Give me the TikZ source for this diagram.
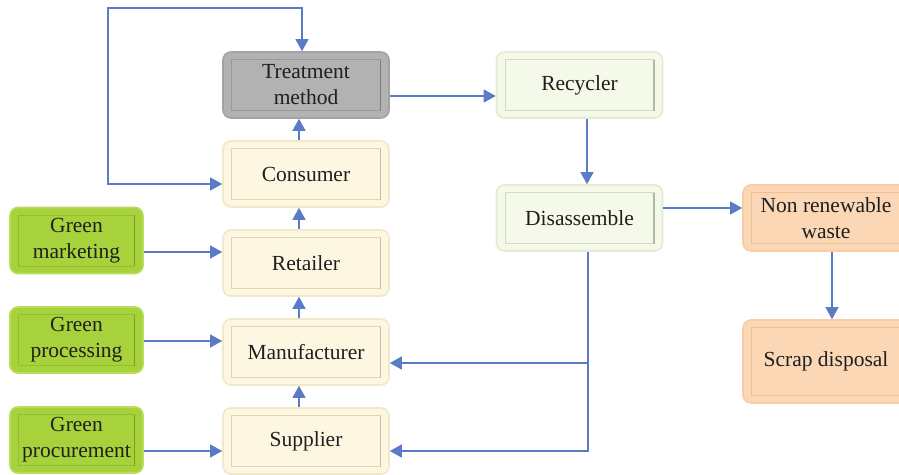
\documentclass[tikz,border=0pt]{standalone}
\usepackage{fontspec}
\setmainfont{Liberation Serif}
\usetikzlibrary{arrows.meta,calc}

\definecolor{arrowblue}{HTML}{5A7CC6}
\definecolor{creamfill}{HTML}{FDF7E2}
\definecolor{creamedge}{HTML}{F1E8C9}
\definecolor{creamline}{HTML}{E0D7B2}
\definecolor{creamdark}{HTML}{C9BE92}
\definecolor{mintfill}{HTML}{F5F9E9}
\definecolor{mintedge}{HTML}{E4EBD0}
\definecolor{mintline}{HTML}{D3DBBE}
\definecolor{mintdark}{HTML}{B3BB9E}
\definecolor{limefill}{HTML}{A8D23C}
\definecolor{limeedge}{HTML}{B8DC5C}
\definecolor{limeline}{HTML}{92BE32}
\definecolor{limedark}{HTML}{75A025}
\definecolor{peachfill}{HTML}{FBD7B6}
\definecolor{peachedge}{HTML}{F8CCA6}
\definecolor{peachline}{HTML}{ECC09A}
\definecolor{peachdark}{HTML}{DAA980}
\definecolor{greyfill}{HTML}{B2B2B2}
\definecolor{greyedge}{HTML}{A3A3A3}
\definecolor{greyline}{HTML}{9A9A9A}
\definecolor{greydark}{HTML}{7E7E7E}

\tikzset{
  panel/.style n args={4}{
    rounded corners=8pt, fill=#1, draw=#2, line width=1.6pt,
    minimum width=166pt, minimum height=66pt, inner sep=0pt,
    align=center, text=black!88, font=\fontsize{21.5}{26}\selectfont,
    path picture={
      \draw[sharp corners, draw=#3, line width=0.8pt]
        ($(path picture bounding box.south west)+(8.5pt,7.5pt)$) rectangle
        ($(path picture bounding box.north east)+(-8.5pt,-7.5pt)$);
      \draw[sharp corners, draw=#4, line width=1.4pt]
        ($(path picture bounding box.south east)+(-8.5pt,7.5pt)$) --
        ($(path picture bounding box.north east)+(-8.5pt,-7.5pt)$);
    }},
  cream/.style={panel={creamfill}{creamedge}{creamline}{creamdark}},
  mint/.style={panel={mintfill}{mintedge}{mintline}{mintdark}},
  lime/.style={panel={limefill}{limeedge}{limeline}{limedark}, minimum width=133pt},
  peach/.style={panel={peachfill}{peachedge}{peachline}{peachdark}},
  grey/.style={panel={greyfill}{greyedge}{greyline}{greydark}},
  arr/.style={draw=arrowblue, line width=1.1pt,
    -{Triangle[length=12pt,width=13pt]}},
  twoway/.style={draw=arrowblue, line width=1.1pt,
    {Triangle[length=12pt,width=13pt]}-{Triangle[length=12pt,width=13pt]}}
}

\begin{document}
\begin{tikzpicture}[x=1pt,y=-1pt]
\useasboundingbox (0,0) rectangle (899,474);

% supply chain column
\node[grey]  (tm)   at (306,85)  {Treatment\\method};
\node[cream] (cons) at (306,174) {Consumer};
\node[cream] (ret)  at (306,263) {Retailer};
\node[cream] (man)  at (306,352) {Manufacturer};
\node[cream] (sup)  at (306,441) {Supplier};

% green practices
\node[lime] (gm)  at (76.5,240.5) {Green\\marketing};
\node[lime] (gp)  at (76.5,340)   {Green\\processing};
\node[lime] (gpr) at (76.5,440)   {Green\\procurement};

% end-of-life branch
\node[mint]  (rec) at (579.5,85)  {Recycler};
\node[mint]  (dis) at (579.5,218) {Disassemble};
\node[peach] (nrw) at (826,218)   {Non renewable\\waste};
\node[peach, minimum height=83pt] (scr) at (826,361.5) {Scrap disposal};

% upward flow
\draw[arr] ($(sup.north)+(-7,0)$) -- ($(man.south)+(-7,0)$);
\draw[arr] ($(man.north)+(-7,0)$) -- ($(ret.south)+(-7,0)$);
\draw[arr] ($(ret.north)+(-7,0)$) -- ($(cons.south)+(-7,0)$);
\draw[arr] ($(cons.north)+(-7,0)$) -- ($(tm.south)+(-7,0)$);

% feedback loop
\coordinate (loop) at (108,8);
\draw[twoway] ($(tm.north)+(-4,0)$) |- (loop) |- ($(cons.west)+(0,10)$);

% green inputs
\draw[arr] ($(gm.east)+(0,11.5)$) -- ($(ret.west)+(0,-11)$);
\draw[arr] ($(gp.east)+(0,1)$) -- ($(man.west)+(0,-11)$);
\draw[arr] ($(gpr.east)+(0,11)$) -- ($(sup.west)+(0,10)$);

% recycling path
\draw[arr] ($(tm.east)+(0,11)$) -- ($(rec.west)+(0,11)$);
\draw[arr] ($(rec.south)+(7.5,0)$) -- ($(dis.north)+(7.5,0)$);
\draw[arr] ($(dis.east)+(0,-10)$) -- ($(nrw.west)+(0,-10)$);
\draw[arr] ($(nrw.south)+(6,0)$) -- ($(scr.north)+(6,0)$);
\draw[arr] ($(dis.south)+(8.5,0)$) |- ($(man.east)+(0,11)$);
\draw[arr] ($(dis.south)+(8.5,0)$) |- ($(sup.east)+(0,10)$);
\end{tikzpicture}
\end{document}
